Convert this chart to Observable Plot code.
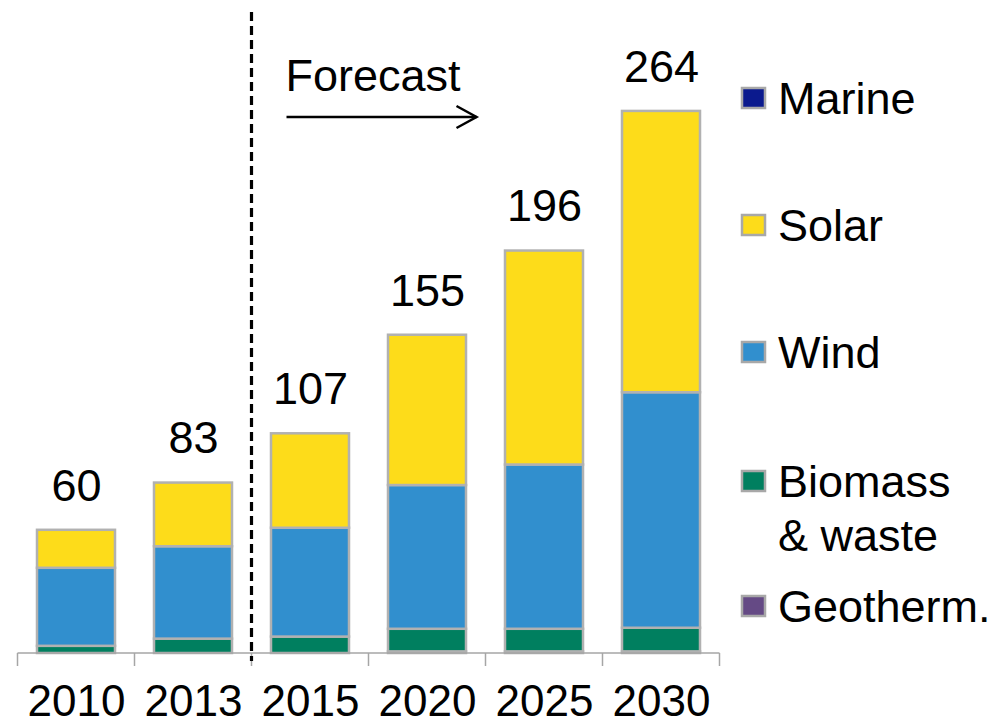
<!DOCTYPE html>
<html>
<head>
<meta charset="utf-8">
<script src="https://cdn.jsdelivr.net/npm/d3@7"></script>
<script src="https://cdn.jsdelivr.net/npm/@observablehq/plot@0.6"></script>
<style>
  html, body { margin: 0; padding: 0; background: #fff; }
  #chart { position: relative; width: 1000px; height: 726px; }
</style>
</head>
<body>
<div id="chart"></div>
<script>
const years = ["2010", "2013", "2015", "2020", "2025", "2030"];
const geotherm = [0, 0, 0, 0.8, 0.8, 0.8];
const biomass = [3.5, 7, 8, 11, 11, 11.5];
const wind = [38, 45, 53, 70, 80, 114.7];
const solar = [18.5, 31, 46, 73.2, 104.2, 137];
const marine = [0, 0, 0, 0, 0, 0];
const totals = [60, 83, 107, 155, 196, 264];
const sources = ["Geotherm.", "Biomass & waste", "Wind", "Solar", "Marine"];
const sourceColors = ["#654a85", "#007f5f", "#318fce", "#fddc1a", "#0b1a8e"];
const legendOrder = ["Marine", "Solar", "Wind", "Biomass & waste", "Geotherm."];
const forecastLabel = "Forecast";
const forecastStart = "2015";

const series = [geotherm, biomass, wind, solar, marine];
const data = [];
years.forEach((yr, i) => {
  sources.forEach((s, j) => data.push({year: yr, source: s, value: series[j][i]}));
});
const totalData = years.map((yr, i) => ({year: yr, total: totals[i]}));

const FONT = "'Liberation Sans', Arial, Helvetica, sans-serif";

const plot = Plot.plot({
  width: 1000,
  height: 726,
  marginLeft: 16,
  marginRight: 280,
  marginTop: 37,
  marginBottom: 73,
  style: {fontFamily: FONT, fontSize: "45px", color: "#000", background: "#fff"},
  x: {domain: years, paddingInner: 0.335, paddingOuter: 0.1675, axis: null},
  y: {domain: [0, 300], axis: null},
  color: {domain: sources, range: sourceColors},
  marks: [
    Plot.barY(data, {
      x: "year", y: "value", fill: "source", order: sources,
      stroke: "#b1b1b1", strokeWidth: 2.5, insetLeft: 0, insetRight: 0
    }),
    Plot.axisX({tickSize: 0, tickPadding: 31, fontSize: 44, label: null, fill: "#000"}),
    Plot.text(totalData, {
      x: "year", y: "total", text: d => String(d.total),
      dy: -44, lineAnchor: "middle", fontSize: 45, fill: "#000"
    })
  ]
});

document.getElementById("chart").appendChild(plot);

// Annotations derived from Plot's own scales
const xs = plot.scale("x");
const ys = plot.scale("y");
const step = xs.step, bw = xs.bandwidth;
const gap = (step - bw) / 2;
const base = ys.apply(0);
const svg = d3.select(plot);

// baseline axis line and band-boundary ticks
const boundaries = years.map(y => xs.apply(y) - gap);
boundaries.push(xs.apply(years[years.length - 1]) + bw + gap);
svg.append("line")
  .attr("x1", boundaries[0]).attr("x2", boundaries[boundaries.length - 1])
  .attr("y1", base).attr("y2", base)
  .attr("stroke", "#a6a6a6").attr("stroke-width", 1.5);
boundaries.forEach(bx => {
  svg.append("line").attr("x1", bx).attr("x2", bx)
    .attr("y1", base).attr("y2", base + 13)
    .attr("stroke", "#a6a6a6").attr("stroke-width", 1.5);
});

// forecast divider
const divX = Math.round(xs.apply(forecastStart) - gap) - 0.5;
svg.append("line")
  .attr("x1", divX).attr("x2", divX)
  .attr("y1", 12).attr("y2", base + 8)
  .attr("stroke", "#000").attr("stroke-width", 3.2)
  .attr("stroke-dasharray", "9,5");

// Forecast label and arrow
svg.append("text")
  .attr("x", divX + 34).attr("y", 75).attr("dy", "0.35em")
  .attr("text-anchor", "start")
  .attr("font-size", 45).attr("font-family", FONT).attr("fill", "#000")
  .text(forecastLabel);
const ax1 = divX + 35, ax2 = xs.apply("2025") - gap - 9, ay = 117;
svg.append("line").attr("x1", ax1).attr("x2", ax2).attr("y1", ay).attr("y2", ay)
  .attr("stroke", "#000").attr("stroke-width", 2.5);
svg.append("path")
  .attr("d", `M${ax2 - 20},${ay - 11} L${ax2},${ay} L${ax2 - 20},${ay + 11}`)
  .attr("fill", "none").attr("stroke", "#000").attr("stroke-width", 2.5);

// Legend
const legendY = {"Marine": [98], "Solar": [225], "Wind": [352], "Biomass & waste": [481, 535], "Geotherm.": [606]};
const lg = svg.append("g").attr("text-anchor", "start");
legendOrder.forEach(s => {
  const ysL = legendY[s];
  const col = sourceColors[sources.indexOf(s)];
  lg.append("rect").attr("x", 742).attr("y", ysL[0] - 10).attr("width", 23).attr("height", 20)
    .attr("fill", col).attr("stroke", "#a8a8a8").attr("stroke-width", 2.5);
  const lines = s === "Biomass & waste" ? ["Biomass", "& waste"] : [s];
  lines.forEach((t, k) => {
    lg.append("text").attr("x", 778).attr("y", ysL[k]).attr("dy", "0.35em")
      .attr("text-anchor", "start")
      .attr("font-size", 45).attr("font-family", FONT).attr("fill", "#000").text(t);
  });
});
</script>
</body>
</html>
